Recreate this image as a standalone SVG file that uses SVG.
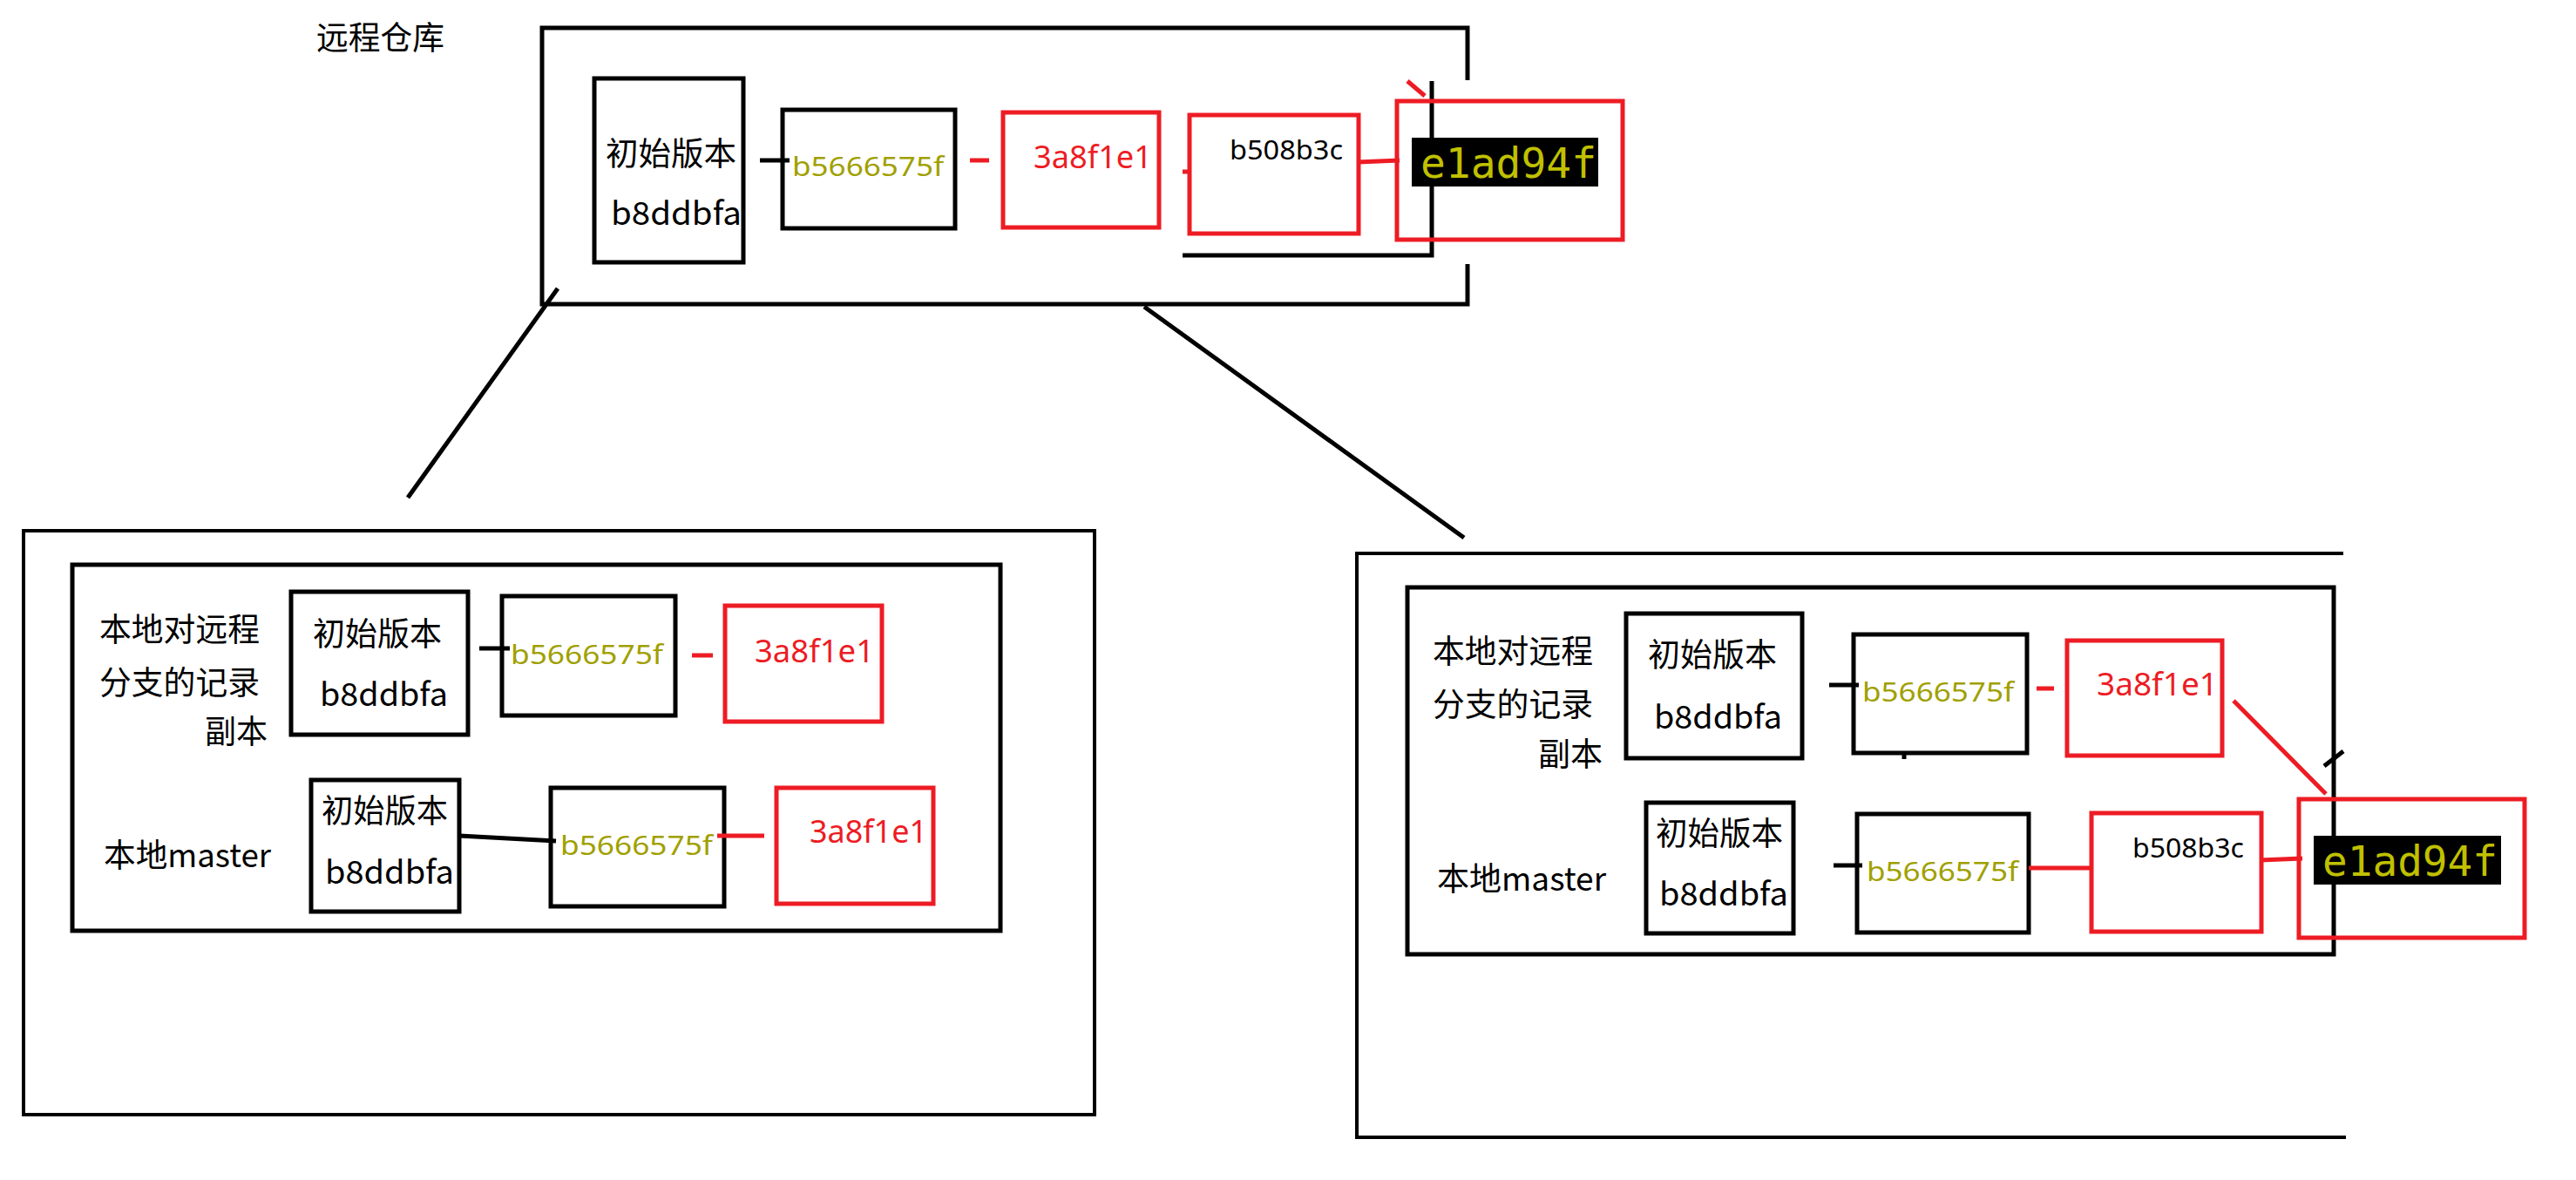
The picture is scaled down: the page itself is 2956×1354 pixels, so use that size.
<svg xmlns="http://www.w3.org/2000/svg" width="2956" height="1354" viewBox="0 0 2956 1354">
<style>
.bk{fill:none;stroke:#000;stroke-width:5}
.rd{fill:none;stroke:#ed1c24;stroke-width:5}
.fr{fill:none;stroke:#000;stroke-width:4}
.t{font-family:"Noto Sans CJK SC","Noto Sans",sans-serif;font-size:37px;fill:#000}
.ol{font-family:"Noto Sans","Noto Sans CJK SC",sans-serif;font-size:31px;fill:#a0a000}
.rt{font-family:"Noto Sans","Noto Sans CJK SC",sans-serif;font-size:37px;fill:#ed1c24}
.sm{font-family:"Noto Sans","Noto Sans CJK SC",sans-serif;font-size:31px;fill:#000}
.mono{font-family:"DejaVu Sans Mono","Liberation Mono",monospace;font-size:48px;fill:#c0c000}
.cb{stroke:#000;stroke-width:5;fill:none}
.cr{stroke:#ed1c24;stroke-width:5;fill:none}
</style>
<rect width="2956" height="1354" fill="#fff"/>

<g id="remote">
<path class="bk" d="M1684,92 V32 H622 V349 H1684 V303"/>
<text class="t" x="363" y="57" textLength="147" lengthAdjust="spacingAndGlyphs">远程仓库</text>
<path class="bk" d="M1357,293 H1643 V93"/>
</g>
<g id="r-init">
<rect class="bk" x="682" y="90" width="171" height="211"/>
<text class="t" x="695" y="190" textLength="150" lengthAdjust="spacingAndGlyphs">初始版本</text>
<text class="t" x="701" y="258" textLength="150" lengthAdjust="spacingAndGlyphs">b8ddbfa</text>
</g>
<g id="r-b566">
<rect class="bk" x="898" y="126" width="198" height="136"/>
<text class="ol" x="909" y="202" textLength="174" lengthAdjust="spacingAndGlyphs">b5666575f</text>
</g>
<g id="r-3a8">
<rect class="rd" x="1151" y="129" width="179" height="132"/>
<text class="rt" x="1186" y="193" textLength="136" lengthAdjust="spacingAndGlyphs">3a8f1e1</text>
</g>
<g id="r-b508">
<rect class="rd" x="1365" y="132" width="194" height="136"/>
<text class="sm" x="1411" y="183" textLength="130" lengthAdjust="spacingAndGlyphs">b508b3c</text>
</g>
<g id="r-e1a">
<rect class="rd" x="1603" y="116" width="259" height="159"/>
<rect x="1620" y="158" width="214" height="56" fill="#000"/>
<text class="mono" x="1630" y="204" textLength="202" lengthAdjust="spacingAndGlyphs">e1ad94f</text>
</g>

<g id="left-local">
<rect class="fr" x="27" y="609" width="1229" height="670"/>
<rect class="bk" x="83" y="648" width="1065" height="420"/>
<text class="t" x="114" y="736" textLength="184" lengthAdjust="spacingAndGlyphs">本地对远程</text>
<text class="t" x="114" y="797" textLength="184" lengthAdjust="spacingAndGlyphs">分支的记录</text>
<text class="t" x="235" y="853" textLength="72" lengthAdjust="spacingAndGlyphs">副本</text>
<text class="t" x="119" y="995" textLength="192" lengthAdjust="spacingAndGlyphs">本地master</text>
</g>
<g id="l-init1">
<rect class="bk" x="334" y="679" width="203" height="164"/>
<text class="t" x="359" y="741" textLength="148" lengthAdjust="spacingAndGlyphs">初始版本</text>
<text class="t" x="367" y="810" textLength="147" lengthAdjust="spacingAndGlyphs">b8ddbfa</text>
</g>
<g id="l-b566-1">
<rect class="bk" x="576" y="684" width="199" height="137"/>
<text class="ol" x="586" y="762" textLength="175" lengthAdjust="spacingAndGlyphs">b5666575f</text>
</g>
<g id="l-3a8-1">
<rect class="rd" x="832" y="695" width="180" height="133"/>
<text class="rt" x="866" y="760" textLength="137" lengthAdjust="spacingAndGlyphs">3a8f1e1</text>
</g>
<g id="l-init2">
<rect class="bk" x="357" y="895" width="170" height="151"/>
<text class="t" x="369" y="944" textLength="145" lengthAdjust="spacingAndGlyphs">初始版本</text>
<text class="t" x="373" y="1014" textLength="148" lengthAdjust="spacingAndGlyphs">b8ddbfa</text>
</g>
<g id="l-b566-2">
<rect class="bk" x="632" y="904" width="199" height="136"/>
<text class="ol" x="643" y="981" textLength="175" lengthAdjust="spacingAndGlyphs">b5666575f</text>
</g>
<g id="l-3a8-2">
<rect class="rd" x="891" y="904" width="180" height="133"/>
<text class="rt" x="929" y="967" textLength="135" lengthAdjust="spacingAndGlyphs">3a8f1e1</text>
</g>

<g id="right-local">
<path class="fr" d="M2689,635 H1557 V1305 H2692"/>
<rect class="bk" x="1615" y="674" width="1063" height="421"/>
<text class="t" x="1644" y="761" textLength="184" lengthAdjust="spacingAndGlyphs">本地对远程</text>
<text class="t" x="1644" y="822" textLength="184" lengthAdjust="spacingAndGlyphs">分支的记录</text>
<text class="t" x="1765" y="879" textLength="74" lengthAdjust="spacingAndGlyphs">副本</text>
<text class="t" x="1649" y="1022" textLength="194" lengthAdjust="spacingAndGlyphs">本地master</text>
</g>
<g id="r2-init1">
<rect class="bk" x="1866" y="704" width="202" height="166"/>
<text class="t" x="1891" y="765" textLength="148" lengthAdjust="spacingAndGlyphs">初始版本</text>
<text class="t" x="1898" y="836" textLength="147" lengthAdjust="spacingAndGlyphs">b8ddbfa</text>
</g>
<g id="r2-b566-1">
<rect class="bk" x="2127" y="728" width="199" height="136"/>
<text class="ol" x="2137" y="805" textLength="174" lengthAdjust="spacingAndGlyphs">b5666575f</text>
</g>
<g id="r2-3a8">
<rect class="rd" x="2372" y="735" width="178" height="132"/>
<text class="rt" x="2406" y="798" textLength="139" lengthAdjust="spacingAndGlyphs">3a8f1e1</text>
</g>
<g id="r2-init2">
<rect class="bk" x="1889" y="921" width="169" height="150"/>
<text class="t" x="1900" y="970" textLength="146" lengthAdjust="spacingAndGlyphs">初始版本</text>
<text class="t" x="1904" y="1039" textLength="148" lengthAdjust="spacingAndGlyphs">b8ddbfa</text>
</g>
<g id="r2-b566-2">
<rect class="bk" x="2131" y="934" width="197" height="136"/>
<text class="ol" x="2142" y="1011" textLength="174" lengthAdjust="spacingAndGlyphs">b5666575f</text>
</g>
<g id="r2-b508">
<rect class="rd" x="2400" y="933" width="195" height="136"/>
<text class="sm" x="2447" y="984" textLength="128" lengthAdjust="spacingAndGlyphs">b508b3c</text>
</g>
<g id="r2-e1a">
<rect class="rd" x="2638" y="917" width="259" height="159"/>
<rect x="2655" y="959" width="215" height="56" fill="#000"/>
<text class="mono" x="2665" y="1005" textLength="201" lengthAdjust="spacingAndGlyphs">e1ad94f</text>
</g>

<g id="connectors">
<line class="cb" x1="872" y1="184" x2="906" y2="184"/>
<line class="cr" x1="1113" y1="184" x2="1135" y2="184" stroke-width="6"/>
<line class="cr" x1="1357" y1="197" x2="1367" y2="197"/>
<line class="cr" x1="1558" y1="186" x2="1606" y2="184"/>
<line class="cr" x1="1615" y1="93" x2="1635" y2="110" stroke-width="4"/>
<line class="cb" x1="640" y1="331" x2="468" y2="571" stroke-width="4"/>
<line class="cb" x1="1313" y1="352" x2="1680" y2="617" stroke-width="4"/>
<line class="cb" x1="550" y1="744" x2="585" y2="744"/>
<line class="cr" x1="794" y1="752" x2="818" y2="752"/>
<line class="cb" x1="527" y1="959" x2="638" y2="965"/>
<line class="cr" x1="823" y1="959" x2="877" y2="959"/>
<line class="cb" x1="2099" y1="786" x2="2133" y2="786"/>
<line class="cr" x1="2337" y1="790" x2="2357" y2="790"/>
<line class="cr" x1="2563" y1="804" x2="2669" y2="911" stroke-width="4"/>
<line class="cb" x1="2104" y1="993" x2="2137" y2="993"/>
<line class="cr" x1="2328" y1="996" x2="2402" y2="996"/>
<line class="cr" x1="2593" y1="987" x2="2642" y2="985"/>
<line class="cb" x1="2185" y1="864" x2="2185" y2="871" stroke-width="3"/>
<line class="cb" x1="2667" y1="879" x2="2689" y2="862" stroke-width="3"/>
</g>
</svg>
